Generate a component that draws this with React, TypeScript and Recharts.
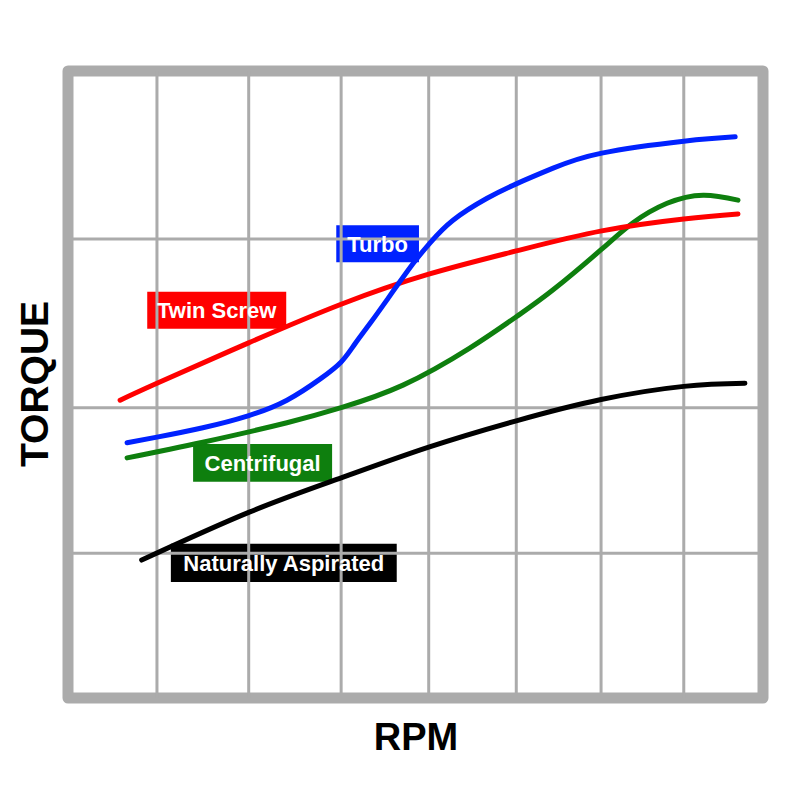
import { LineChart, Line, XAxis, YAxis, ReferenceLine, ReferenceArea } from "recharts";

// Axes run 0..100 in both directions (relative RPM / relative torque)
const rpmGrid = [12.8, 26.0, 39.3, 51.9, 64.5, 76.7, 88.6];
const torqueGrid = [23.1, 46.3, 73.2];

const twinScrew = [
  { x: 7.5, y: 47.5 },
  { x: 12.8, y: 50.2 },
  { x: 25.9, y: 56.6 },
  { x: 39.3, y: 62.8 },
  { x: 51.9, y: 67.6 },
  { x: 64.5, y: 71.3 },
  { x: 76.8, y: 74.5 },
  { x: 88.6, y: 76.4 },
  { x: 96.4, y: 77.2 },
];

const turbo = [
  { x: 8.5, y: 40.7 },
  { x: 12.8, y: 41.6 },
  { x: 19.4, y: 43.1 },
  { x: 25.9, y: 45.0 },
  { x: 31.5, y: 47.5 },
  { x: 36.3, y: 50.9 },
  { x: 39.3, y: 53.6 },
  { x: 41.3, y: 56.5 },
  { x: 43.5, y: 59.8 },
  { x: 45.9, y: 63.5 },
  { x: 49.6, y: 69.2 },
  { x: 52.1, y: 72.6 },
  { x: 55.4, y: 76.2 },
  { x: 60.3, y: 79.7 },
  { x: 64.5, y: 82.0 },
  { x: 69.8, y: 84.5 },
  { x: 76.8, y: 86.9 },
  { x: 88.6, y: 88.8 },
  { x: 96.0, y: 89.5 },
];

const centrifugal = [
  { x: 8.5, y: 38.3 },
  { x: 19.4, y: 40.8 },
  { x: 31.5, y: 43.9 },
  { x: 39.3, y: 46.3 },
  { x: 48.2, y: 49.9 },
  { x: 57.8, y: 55.8 },
  { x: 64.5, y: 60.8 },
  { x: 69.8, y: 65.1 },
  { x: 76.7, y: 71.5 },
  { x: 81.3, y: 75.8 },
  { x: 86.2, y: 78.9 },
  { x: 91.4, y: 80.2 },
  { x: 96.4, y: 79.4 },
];

const naturallyAspirated = [
  { x: 10.6, y: 22.0 },
  { x: 26.0, y: 29.6 },
  { x: 39.3, y: 35.1 },
  { x: 51.9, y: 40.0 },
  { x: 64.5, y: 44.2 },
  { x: 76.7, y: 47.6 },
  { x: 88.6, y: 49.7 },
  { x: 97.4, y: 50.2 },
];

const series = [
  { name: "Naturally Aspirated", data: naturallyAspirated, color: "#000000" },
  { name: "Centrifugal", data: centrifugal, color: "#0e7f0e" },
  { name: "Twin Screw", data: twinScrew, color: "#ff0000" },
  { name: "Turbo", data: turbo, color: "#0022ff" },
];

// label boxes, in axis units
const callouts = [
  { text: "Turbo", color: "#0022ff", x1: 38.6, x2: 50.5, y1: 69.5, y2: 75.4 },
  { text: "Twin Screw", color: "#ff0000", x1: 11.4, x2: 31.4, y1: 58.9, y2: 64.8 },
  { text: "Centrifugal", color: "#0e7f0e", x1: 18.0, x2: 38.0, y1: 34.5, y2: 40.5 },
  { text: "Naturally Aspirated", color: "#000000", x1: 14.8, x2: 47.3, y1: 18.5, y2: 24.6 },
];

const FONT = '"Liberation Sans", Arial, Helvetica, sans-serif';
const GRID = "#ababab";

export default function App() {
  return (
    <div style={{ position: "absolute", left: 0, top: 0, width: 800, height: 800, background: "#fff" }}>
      <LineChart width={800} height={800} margin={{ top: 71, right: 37, bottom: 102, left: 68 }}>
        <XAxis type="number" dataKey="x" domain={[0, 100]} hide />
        <YAxis type="number" dataKey="y" domain={[0, 100]} hide />

        {rpmGrid.map((v) => (
          <ReferenceLine key={"x" + v} x={v} stroke={GRID} strokeWidth={3} />
        ))}
        {torqueGrid.map((v) => (
          <ReferenceLine key={"y" + v} y={v} stroke={GRID} strokeWidth={3} />
        ))}
        <ReferenceArea
          x1={0}
          x2={100}
          y1={0}
          y2={100}
          fill="none"
          fillOpacity={0}
          stroke={GRID}
          strokeWidth={11}
          strokeLinejoin="round"
        />

        {series.map((s) => (
          <Line
            key={s.name}
            data={s.data}
            dataKey="y"
            type="natural"
            stroke={s.color}
            strokeWidth={5}
            strokeLinecap="round"
            dot={false}
            activeDot={false}
            isAnimationActive={false}
          />
        ))}

        {callouts.map((c) => (
          <ReferenceArea
            key={c.text}
            x1={c.x1}
            x2={c.x2}
            y1={c.y1}
            y2={c.y2}
            fill={c.color}
            fillOpacity={1}
            stroke="none"
            label={{
              value: c.text,
              position: "center",
              fill: "#ffffff",
              fontSize: 22,
              fontWeight: 700,
              fontFamily: FONT,
            }}
          />
        ))}

        <text
          x={48}
          y={384}
          transform="rotate(-90 48 384)"
          textAnchor="middle"
          fontFamily={FONT}
          fontWeight={700}
          fontSize={39}
          fill="#000"
        >
          TORQUE
        </text>
        <text x={416} y={750} textAnchor="middle" fontFamily={FONT} fontWeight={700} fontSize={38} fill="#000">
          RPM
        </text>
      </LineChart>
    </div>
  );
}
